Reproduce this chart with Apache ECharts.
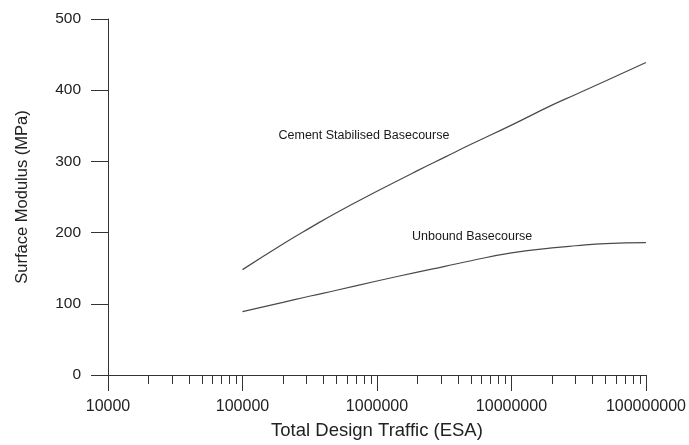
<!DOCTYPE html>
<html>
<head>
<meta charset="utf-8">
<script src="https://cdn.jsdelivr.net/npm/echarts@6/dist/echarts.min.js"></script>
<style>html,body{margin:0;padding:0;background:#fff;}#c{width:689px;height:445px;}</style>
</head>
<body>
<div id="c"></div>
<script>
const traffic = [1e5, 2e5, 3.2e5, 5e5, 1e6, 2e6, 3.2e6, 5e6, 1e7, 2e7, 3e7, 5e7, 1e8];
const cementModulus = [148, 184, 207, 228, 258, 287, 306, 324, 351, 379, 394, 413, 439];
const unboundModulus = [89, 102, 111, 119, 132, 144.5, 152.5, 160.5, 171.5, 178.5, 181.5, 184.5, 186];
const xMajorTicks = [1e4, 1e5, 1e6, 1e7, 1e8];
const xMinorTicks = [];
for (const d of [1e4, 1e5, 1e6, 1e7]) { for (const m of [2,3,4,5,6,7,8,9]) xMinorTicks.push(m * d); }
const cementLabel = {text: 'Cement Stabilised Basecourse', x: 8.0e5, y: 337};
const unboundLabel = {text: 'Unbound Basecourse', x: 5.1e6, y: 195};

const chart = echarts.init(document.getElementById('c'), null, {renderer: 'canvas'});
const ff = 'Liberation Sans, Arial, sans-serif';
const axisColor = '#333';
function lbl(o) {
  return {
    coord: [o.x, o.y], value: o.text, symbol: 'circle', symbolSize: 1,
    itemStyle: {color: 'rgba(0,0,0,0)'},
    label: {show: true, position: 'inside', formatter: o.text, color: '#1a1a1a', fontSize: 12.5, fontFamily: ff}
  };
}
chart.setOption({
  animation: false,
  backgroundColor: '#fff',
  grid: {left: 108, right: 43, top: 19, bottom: 68, containLabel: false},
  xAxis: [{
    type: 'log', logBase: 10, min: 1e4, max: 1e8,
    name: 'Total Design Traffic (ESA)', nameLocation: 'middle', nameGap: 46,
    nameTextStyle: {fontSize: 18.5, color: '#222', fontFamily: ff},
    axisLine: {show: true, onZero: false, lineStyle: {color: axisColor, width: 1}},
    axisTick: {show: true, inside: false, length: 16, customValues: xMajorTicks, lineStyle: {color: axisColor}},
    axisLabel: {margin: 24, fontSize: 16, color: '#222', fontFamily: ff, customValues: xMajorTicks, formatter: v => String(Math.round(v))},
    splitLine: {show: false}, minorTick: {show: false}
  }, {
    type: 'log', logBase: 10, min: 1e4, max: 1e8, position: 'bottom', offset: 0,
    axisLine: {show: false},
    axisTick: {show: true, inside: false, length: 9, customValues: xMinorTicks, lineStyle: {color: axisColor}},
    axisLabel: {show: false},
    splitLine: {show: false}
  }],
  yAxis: {
    type: 'value', min: 0, max: 500, interval: 100,
    name: 'Surface Modulus (MPa)', nameLocation: 'middle', nameGap: 77,
    nameTextStyle: {fontSize: 16.5, color: '#222', fontFamily: ff},
    axisLine: {show: true, lineStyle: {color: axisColor, width: 1}},
    axisTick: {show: true, inside: false, length: 17, lineStyle: {color: axisColor}},
    axisLabel: {margin: 27, fontSize: 15.5, color: '#222', fontFamily: ff},
    splitLine: {show: false}
  },
  series: [{
    name: 'Cement Stabilised Basecourse', type: 'line', smooth: true, showSymbol: false,
    data: traffic.map((x, i) => [x, cementModulus[i]]),
    lineStyle: {color: '#4a4a4a', width: 1.2},
    markPoint: {silent: true, data: [lbl(cementLabel)]}
  }, {
    name: 'Unbound Basecourse', type: 'line', smooth: true, showSymbol: false,
    data: traffic.map((x, i) => [x, unboundModulus[i]]),
    lineStyle: {color: '#4a4a4a', width: 1.2},
    markPoint: {silent: true, data: [lbl(unboundLabel)]}
  }]
});
</script>
</body>
</html>
